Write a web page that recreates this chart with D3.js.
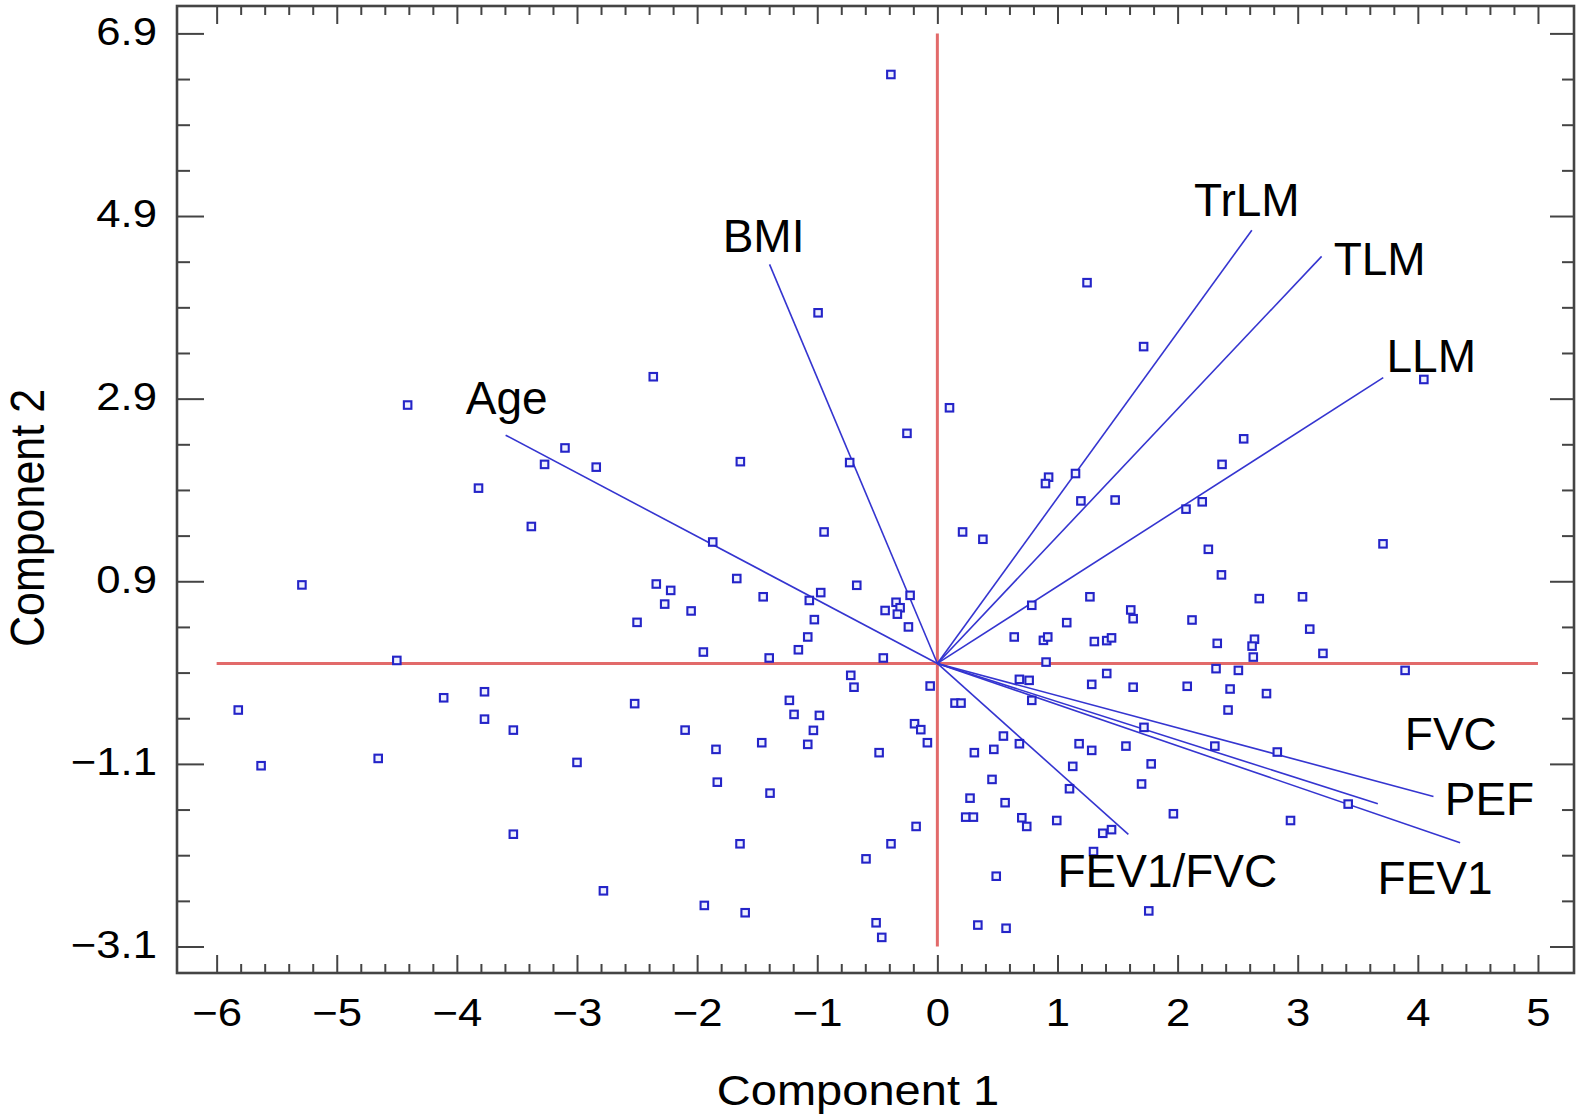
<!DOCTYPE html>
<html>
<head>
<meta charset="utf-8">
<script src="https://cdn.jsdelivr.net/npm/d3@7"></script>
<style>
body { margin: 0; background: #fff; }
svg { display: block; }
text { font-family: "Liberation Sans", Arial, Helvetica, sans-serif; fill: #000; }
</style>
</head>
<body>
<svg id="chart"></svg>
<script>
// biplot: scores (squares) + loadings (lines from origin)
var width = 1582, height = 1115;

var xMajorTicks = [-6, -5, -4, -3, -2, -1, 0, 1, 2, 3, 4, 5];
var yMajorTicks = [-3.1, -1.1, 0.9, 2.9, 4.9, 6.9];

// loadings
var varNames = ["BMI", "Age", "TrLM", "TLM", "LLM", "FVC", "PEF", "FEV1", "FEV1/FVC"];
var loadX = [-1.397, -3.594, 2.618, 3.199, 3.712, 3.667, 4.130, 4.352, 1.590];
var loadY = [4.370, 2.500, 4.745, 4.458, 3.130, -1.536, -1.456, -1.963, -1.872];

// scores, component 1
var scoreX = [
  -1.67, -1.45, -1.066, -0.971, -0.671, -1.024, -1.079, -1.157, -1.948, -1.40,
  -0.45, -0.435, -0.344, -0.31, -0.333, -0.227, -0.241, 0.786, 1.27, 1.077,
  0.64, 0.883, 0.919, 1.307, 0.905, -0.721, -0.694, -0.06, 0.147, 0.197,
  0.683, 0.764, 0.786, 1.285, -1.232, -1.193, -0.982, -1.032, -1.079, -1.462,
  -1.843, -1.832, -1.393, -0.485, -0.19, -0.138, -0.083, -0.177, -0.386, -1.643,
  -0.594, 0.55, 0.308, 0.47, 0.683, 0.455, 1.127, 1.18, 1.285, 1.10,
  0.272, 0.564, 0.236, 0.30, 0.703, 0.744, 0.994, 1.30,
  2.63, 3.21, 1.41, 2.32, 2.506, 3.894, 1.63, 2.08, 2.437, 2.74,
  2.42, 1.72, 1.57, 2.31, 2.83, 1.78, 1.70, 3.42, 1.965, 2.94,
  1.377, 1.45,
  -0.387, 1.246, -0.993, 1.717, -2.365, -4.41, 0.101, 4.05, -0.253, 2.55,
  -3.10, -3.27, -2.84, -1.64, -0.73, 2.37, 1.15, 0.926, 0.90, -3.82,
  1.195, 1.48, 2.205, 2.07, -3.38, -0.943, 0.21, 0.379, 3.71, -1.87, 2.256,
  -5.29, -2.34, -2.22, -2.27, -2.05, -2.50, -4.50, -4.11, -3.77, -5.82,
  -2.52, -3.77, -2.10, -3.53, -4.655, -5.63, -3.00, -3.53, -2.78, -1.94, -1.60,
  0.49, 1.76, -0.51, -0.463, 0.337, 0.572,
  1.61, 1.63, 2.12, 3.10, 1.41, 1.45, 2.33, 2.64, 2.62, 2.365, 2.68, 3.04
];
// scores, component 2
var scoreY = [
  0.93, 0.73, 0.69, 0.776, 0.856, 0.48, 0.29, 0.15, 0.125, 0.06,
  0.06, 0.58, 0.67, 0.61, 0.54, 0.746, 0.40, 0.637, 0.73, 0.447,
  0.29, 0.253, 0.29, 0.24, 0.015, -0.13, -0.26, -0.247, -0.434, -0.434,
  -0.174, -0.185, -0.404, -0.229, -0.404, -0.558, -0.569, -0.733, -0.886, -0.868,
  -0.941, -1.30, -1.42, -0.977, -0.66, -0.725, -0.868, -1.785, -1.975, -1.975,
  -2.14, -0.795, -0.977, -0.941, -0.879, -1.27, -1.127, -0.879, -0.952, -1.372,
  -1.475, -1.525, -1.683, -1.683, -1.69, -1.785, -1.72, -2.06,
  0.07, 0.11, -0.11, -0.057, -0.076, -0.076, -0.26, -0.25, -0.28, -0.33,
  -0.51, -0.70, -0.905, -0.905, -0.97, -1.10, -1.32, -1.54, -1.646, -1.72,
  -1.86, -1.82,
  6.45, 4.17, 3.84, 3.47, 3.14, 2.83, 2.80, 3.11, 2.52, 2.46,
  2.36, 2.18, 2.15, 2.21, 2.20, 2.18, 2.08, 2.04, 1.97, 1.92,
  1.78, 1.79, 1.77, 1.69, 1.50, 1.44, 1.44, 1.36, 1.31, 1.33, 1.25,
  0.86, 0.87, 0.80, 0.65, 0.575, 0.45, 0.033, -0.376, -0.31, -0.51,
  -0.44, -0.61, -0.73, -0.73, -1.04, -1.12, -1.084, -1.87, -2.49, -2.65, -2.73,
  -2.33, -2.71, -2.84, -3.00, -2.865, -2.90,
  0.586, 0.49, 0.476, 0.376, 0.25, 0.28, 0.22, 0.265, 0.19, 0.97, 0.71, 0.73
];

// label offsets from loading end point (px)
var labelNudge = [[-6, -29], [1, -38], [-5, -31], [58, 2], [48, -22], [73, -70], [56, 2], [-25, 35], [39, 36]];

var svg = d3.select("#chart").attr("width", width).attr("height", height);

var x = d3.scaleLinear().domain([-6.33, 5.30]).range([177, 1574]);
var y = d3.scaleLinear().domain([-3.39, 7.20]).range([973, 6]);

var xMinor = d3.range(0, 56).map(k => +(xMajorTicks[0] + 0.2 * k).toFixed(1)).filter(v => v <= 5 && !xMajorTicks.includes(v));
var yMinor = d3.range(0, 21).map(k => +(yMajorTicks[0] + 0.5 * k).toFixed(1)).filter(v => !yMajorTicks.includes(v));

var TICK_FONT = 39, STRETCH = 1.12; // 元画像は横に少し伸びている

function addAxis(gen, tx, ty) {
  var g = svg.append("g").attr("transform", "translate(" + tx + "," + ty + ")").call(gen);
  g.select(".domain").remove();
  g.selectAll("line").attr("stroke", "#444").attr("stroke-width", 2);
  return g;
}

// bottom
addAxis(d3.axisBottom(x).tickValues(xMinor).tickSize(-9).tickFormat(""), 0, 973);
addAxis(d3.axisBottom(x).tickValues(xMajorTicks).tickSize(-18).tickPadding(25).tickFormat(d3.format("d")), 0, 973)
  .selectAll("text")
  .attr("font-size", TICK_FONT)
  .attr("transform", "scale(" + STRETCH + ",1)")
  .style("font-family", "'Liberation Sans', Arial, sans-serif");
// top
addAxis(d3.axisTop(x).tickValues(xMinor).tickSize(-9).tickFormat(""), 0, 6);
addAxis(d3.axisTop(x).tickValues(xMajorTicks).tickSize(-18).tickFormat(""), 0, 6);
// left
addAxis(d3.axisLeft(y).tickValues(yMinor).tickSize(-13).tickFormat(""), 177, 0);
addAxis(d3.axisLeft(y).tickValues(yMajorTicks).tickSize(-27).tickFormat(d3.format(".1f")), 177, 0)
  .selectAll("text")
  .attr("font-size", TICK_FONT)
  .attr("x", -20 / STRETCH)
  .attr("dy", "0.28em")
  .attr("transform", "scale(" + STRETCH + ",1)")
  .style("font-family", "'Liberation Sans', Arial, sans-serif");
// right
addAxis(d3.axisRight(y).tickValues(yMinor).tickSize(-12).tickFormat(""), 1574, 0);
addAxis(d3.axisRight(y).tickValues(yMajorTicks).tickSize(-24).tickFormat(""), 1574, 0);

// frame
svg.append("rect")
  .attr("x", x.range()[0]).attr("y", y.range()[1])
  .attr("width", x.range()[1] - x.range()[0]).attr("height", y.range()[0] - y.range()[1])
  .attr("fill", "none").attr("stroke", "#444").attr("stroke-width", 2.6);

// red reference lines
svg.append("line")
  .attr("x1", x(xMajorTicks[0])).attr("x2", x(xMajorTicks[xMajorTicks.length - 1]))
  .attr("y1", y(0)).attr("y2", y(0))
  .attr("stroke", "#e26a6a").attr("stroke-width", 3);
svg.append("line")
  .attr("x1", x(0)).attr("x2", x(0))
  .attr("y1", y(yMajorTicks[0])).attr("y2", y(yMajorTicks[yMajorTicks.length - 1]))
  .attr("stroke", "#e26a6a").attr("stroke-width", 3);

// loading vectors
var loads = varNames.map((n, i) => ({name: n, x: loadX[i], y: loadY[i], nudge: labelNudge[i]}));
svg.append("g")
  .selectAll("line")
  .data(loads)
  .enter()
  .append("line")
  .attr("x1", x(0)).attr("y1", y(0))
  .attr("x2", d => x(d.x)).attr("y2", d => y(d.y))
  .attr("stroke", "#3535d0").attr("stroke-width", 1.6);

// scores
var pts = scoreX.map((v, i) => ({x: v, y: scoreY[i]}));
var s = 7.5;
svg.append("g")
  .selectAll("rect")
  .data(pts)
  .enter()
  .append("rect")
  .attr("x", d => x(d.x) - s / 2)
  .attr("y", d => y(d.y) - s / 2)
  .attr("width", s).attr("height", s)
  .attr("fill", "#eef0ff")
  .attr("stroke", "#2424c8").attr("stroke-width", 2.1);

// loading labels
svg.append("g")
  .selectAll("text")
  .data(loads)
  .enter()
  .append("text")
  .attr("x", d => x(d.x) + d.nudge[0])
  .attr("y", d => y(d.y) + d.nudge[1])
  .attr("dy", "0.36em")
  .attr("text-anchor", "middle")
  .attr("font-size", 46)
  .text(d => d.name);

// axis titles
svg.append("text")
  .attr("transform", "translate(858,1105) scale(1.12,1)")
  .attr("text-anchor", "middle")
  .attr("font-size", 42)
  .text("Component 1");
svg.append("text")
  .attr("transform", "translate(44,518) rotate(-90) scale(1,1.1)")
  .attr("text-anchor", "middle")
  .attr("font-size", 43)
  .text("Component 2");
</script>
</body>
</html>
